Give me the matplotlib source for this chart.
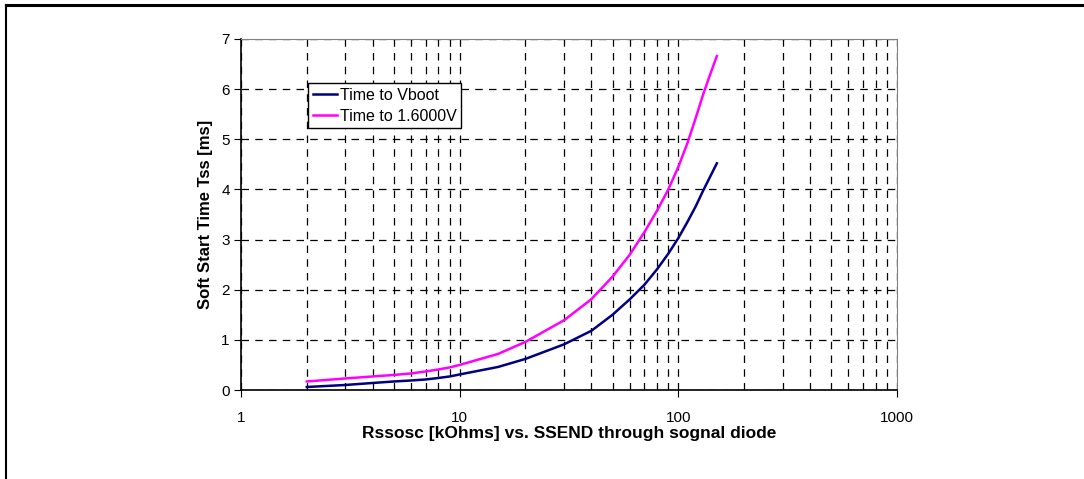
import matplotlib.pyplot as plt
from matplotlib.lines import Line2D
from matplotlib.ticker import LogLocator, FixedLocator, NullFormatter

plt.rcParams['font.family'] = ['Liberation Sans', 'DejaVu Sans']

# Rssosc [kOhms]
r_kohm = [2, 3, 4, 5, 6, 7, 8, 9, 10, 15, 20, 30, 40, 50, 60, 70, 80, 90,
          100, 110, 120, 130, 140, 150]
# soft start time [ms]
t_vboot = [0.06, 0.10, 0.14, 0.17, 0.19, 0.21, 0.24, 0.27, 0.31, 0.46, 0.62,
           0.91, 1.18, 1.50, 1.81, 2.10, 2.41, 2.72, 3.03, 3.35, 3.66, 3.98,
           4.26, 4.52]
t_1v6 = [0.17, 0.23, 0.27, 0.30, 0.33, 0.37, 0.41, 0.45, 0.50, 0.72, 0.96,
         1.39, 1.81, 2.26, 2.70, 3.15, 3.58, 4.00, 4.45, 4.92, 5.42, 5.90,
         6.30, 6.66]

fig = plt.figure(figsize=(10.84, 4.79), dpi=100)
ax = fig.add_axes([0.2223, 0.1858, 0.6052, 0.7328])

ax.plot(r_kohm, t_vboot, color='#000080', lw=1.8, label='Time to Vboot')
ax.plot(r_kohm, t_1v6, color='#ff00ff', lw=1.8, label='Time to 1.6000V')

ax.set_xscale('log')
ax.set_xlim(1, 1000)
ax.set_ylim(0, 7)
ax.set_yticks(range(0, 8))
ax.xaxis.set_major_locator(FixedLocator([1, 10, 100, 1000]))
ax.xaxis.set_minor_locator(LogLocator(base=10, subs=range(2, 10)))
ax.xaxis.set_minor_formatter(NullFormatter())
ax.set_xticklabels(['1', '10', '100', '1000'])

ax.grid(True, which='both', axis='x', color='black', ls=(0, (6, 5)), lw=0.9)
ax.grid(True, which='major', axis='y', color='black', ls=(0, (6, 5)), lw=0.9)
ax.tick_params(axis='x', which='minor', length=0)
ax.tick_params(axis='both', which='major', labelsize=11, length=5,
               direction='out', color='black', pad=10)
ax.tick_params(axis='y', pad=3)

for s in ['top', 'right']:
    ax.spines[s].set_color('#808080')
for s in ['left', 'bottom']:
    ax.spines[s].set_color('black')
    ax.spines[s].set_linewidth(1.2)

ax.set_xlabel('Rssosc [kOhms] vs. SSEND through sognal diode',
              fontsize=12.5, fontweight='bold', labelpad=1)
ax.set_ylabel('Soft Start Time Tss [ms]', fontsize=12, fontweight='bold',
              labelpad=6)

leg = ax.legend(loc='upper left', bbox_to_anchor=(0.102, 0.874), fontsize=11.5,
                frameon=True, fancybox=False, framealpha=1,
                edgecolor='black', handlelength=1.5, handletextpad=0.2,
                borderpad=0.3, labelspacing=0.35, borderaxespad=0)
leg.get_frame().set_linewidth(1.0)

# outer frame around the figure (top and left edges visible)
fig.add_artist(Line2D([0.0055, 1.0], [0.989, 0.989], color='black', lw=2.2,
                      transform=fig.transFigure))
fig.add_artist(Line2D([0.0055, 0.0055], [0.0, 0.989], color='black', lw=1.5,
                      transform=fig.transFigure))

fig.savefig('out.png', dpi=100)
